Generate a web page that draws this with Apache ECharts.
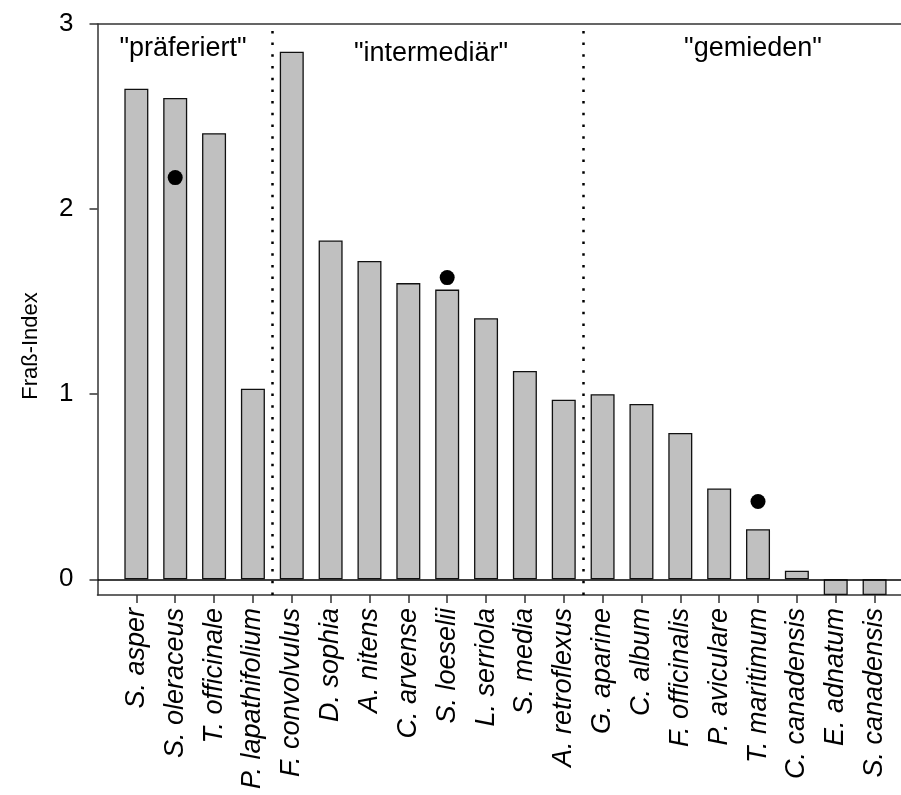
<!DOCTYPE html>
<html>
<head>
<meta charset="utf-8">
<script src="https://cdn.jsdelivr.net/npm/echarts@6/dist/echarts.min.js"></script>
<style>
html,body{margin:0;padding:0;background:#fff;}
#chart{width:901px;height:795px;}
</style>
</head>
<body>
<div id="chart"></div>
<script>
// ---- data ----
const categories = ['S. asper','S. oleraceus','T. officinale','P. lapathifolium','F. convolvulus',
  'D. sophia','A. nitens','C. arvense','S. loeselii','L. serriola','S. media','A. retroflexus',
  'G. aparine','C. album','F. officinalis','P. aviculare','T. maritimum','C. canadensis',
  'E. adnatum','S. canadensis'];
const values = [2.65, 2.60, 2.41, 1.03, 2.85,
  1.83, 1.72, 1.60, 1.565, 1.41, 1.125, 0.97,
  1.00, 0.947, 0.79, 0.49, 0.27, 0.046,
  -0.085, -0.085];
const dotCategories = ['S. oleraceus','S. loeselii','T. maritimum'];
const dotValues = [2.17, 1.63, 0.42];
const groupLabels = ['"präferiert"','"intermediär"','"gemieden"'];
const groupBoundaries = [4.5, 12.5]; // positions between category slots
const yTicks = [0, 1, 2, 3];
const yName = 'Fraß-Index';

// ---- chart ----
const FONT = 'Liberation Sans, Arial, Helvetica, sans-serif';
const xMax = 20.68, yMin = -0.085, yMax = 3;
const catPos = categories.map((c, i) => i + 1);
const barData = values.map((v, i) => [catPos[i], v]);
const dotData = dotCategories.map((c, i) => [categories.indexOf(c) + 1, dotValues[i]]);

const chart = echarts.init(document.getElementById('chart'), null, {renderer: 'canvas'});
chart.setOption({
  animation: false,
  backgroundColor: '#fff',
  grid: {left: 97.5, right: 0, top: 24, bottom: 200, containLabel: false},
  xAxis: [{
    type: 'value', min: 0, max: xMax, position: 'bottom',
    splitLine: {show: false},
    axisLine: {show: true, onZero: false, lineStyle: {color: '#333', width: 1.5}},
    axisTick: {show: true, customValues: catPos, length: 8, lineStyle: {color: '#333', width: 1.5}},
    axisLabel: {
      show: true, customValues: catPos, rotate: 90, margin: 13,
      fontFamily: FONT, fontSize: 27, fontStyle: 'italic', color: '#000',
      formatter: v => categories[Math.round(v) - 1] || ''
    }
  }, {
    type: 'value', min: 0, max: xMax, position: 'top',
    splitLine: {show: false},
    axisLine: {show: true, onZero: false, lineStyle: {color: '#333', width: 1.5}},
    axisTick: {show: false}, axisLabel: {show: false}
  }],
  yAxis: {
    type: 'value', min: yMin, max: yMax,
    splitLine: {show: false},
    axisLine: {show: true, onZero: false, lineStyle: {color: '#333', width: 1.5}},
    axisTick: {show: true, customValues: yTicks, length: 8, lineStyle: {color: '#333', width: 1.5}},
    axisLabel: {show: true, customValues: yTicks, margin: 24, fontFamily: FONT, fontSize: 26, color: '#000'}
  },
  series: [{
    type: 'bar', xAxisIndex: 0, data: barData, barWidth: 24,
    itemStyle: {color: '#c0c0c0', borderColor: '#111', borderWidth: 1.3},
    markLine: {
      silent: true, symbol: ['none', 'none'], label: {show: false},
      lineStyle: {color: '#000', width: 1.5, type: 'solid'},
      data: [{yAxis: 0}]
    },
    z: 2
  }, {
    type: 'scatter', xAxisIndex: 0, data: dotData, symbol: 'circle', symbolSize: 15,
    itemStyle: {color: '#000', opacity: 1},
    markLine: {
      silent: true, symbol: ['none', 'none'], label: {show: false},
      lineStyle: {color: '#000', width: 2.5, type: [2.5, 9.2]},
      data: groupBoundaries.map(b => ({xAxis: b}))
    },
    z: 3
  }],
  graphic: [
    {type: 'text', x: 31, y: 346, rotation: Math.PI / 2, style: {text: yName, font: '22px ' + FONT, fill: '#000', textAlign: 'center', textVerticalAlign: 'middle'}},
    {type: 'text', x: 183, y: 62, style: {text: groupLabels[0], font: '27px ' + FONT, fill: '#000', textAlign: 'center', textVerticalAlign: 'bottom'}},
    {type: 'text', x: 431, y: 67, style: {text: groupLabels[1], font: '27px ' + FONT, fill: '#000', textAlign: 'center', textVerticalAlign: 'bottom'}},
    {type: 'text', x: 753, y: 62, style: {text: groupLabels[2], font: '27px ' + FONT, fill: '#000', textAlign: 'center', textVerticalAlign: 'bottom'}}
  ]
});
</script>
</body>
</html>
